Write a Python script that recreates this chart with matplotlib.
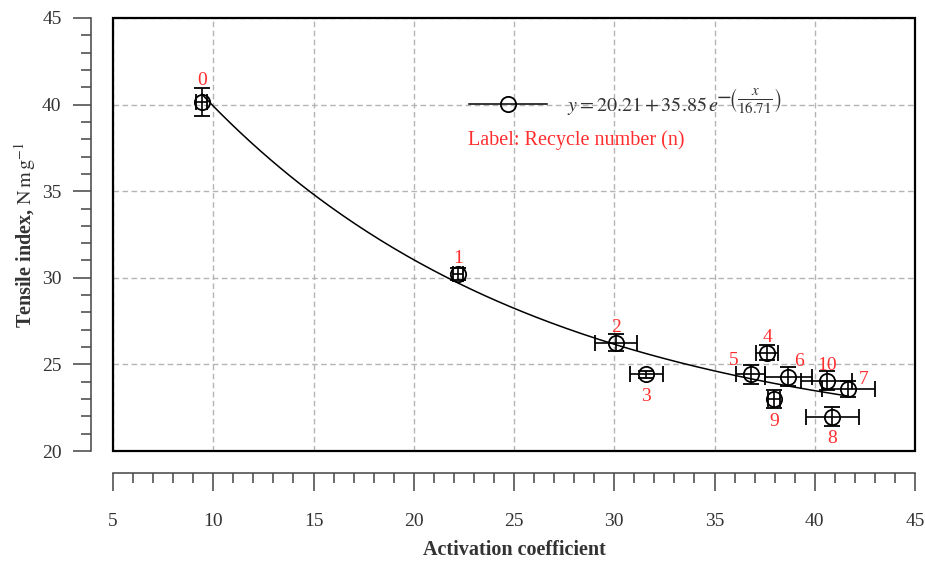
import matplotlib
matplotlib.use("Agg")
import matplotlib.pyplot as plt
from matplotlib.lines import Line2D
from matplotlib.patches import Rectangle
from matplotlib.ticker import MultipleLocator
import numpy as np

plt.rcParams["font.family"] = ["Liberation Serif", "DejaVu Serif"]
plt.rcParams["mathtext.fontset"] = "stix"

TXT, RED, GRID, AXC = "#333333", "#ff2e2e", "#b4b4b4", "#444444"

# recycle number n, activation coefficient (x), tensile index (y)
recycle = [0, 1, 2, 3, 4, 5, 6, 7, 8, 9, 10]
act_coef = [9.43, 22.23, 30.1, 31.6, 37.63, 36.8, 38.68, 41.68, 40.88, 37.97, 40.6]
act_err = [0.27, 0.25, 1.05, 0.83, 0.55, 0.73, 1.17, 1.33, 1.33, 0.30, 1.27]
tensile = [40.16, 30.23, 26.26, 24.42, 25.68, 24.42, 24.3, 23.58, 21.98, 23.0, 24.07]
tensile_err = [0.80, 0.35, 0.50, 0.20, 0.45, 0.56, 0.53, 0.48, 0.55, 0.52, 0.54]

# label offsets (points) for each recycle number
label_dx = [0, 0, 0, 0, 0, -12, 8, 11, 0, 0, 0]
label_dy = [15, 11, 11, -16, 11, 10, 11, 7, -16, -16, 11]

# fitted model y = a + b * exp(-x / c)
fit_a, fit_b, fit_c = 20.21, 35.85, 16.71

fig = plt.figure(figsize=(9.25, 5.61), dpi=100)
ax = fig.add_axes([113 / 925, 1 - 451 / 561, 802 / 925, 433 / 561])

# fit curve
xf = np.linspace(min(act_coef), max(act_coef), 200)
ax.plot(xf, fit_a + fit_b * np.exp(-xf / fit_c), color="black", lw=1.1, zorder=3)

ax.errorbar(act_coef, tensile, xerr=act_err, yerr=tensile_err, fmt="o",
            mfc="none", mec="black", ms=11, mew=1.3, ecolor="black",
            elinewidth=1.2, capsize=6, capthick=1.2, zorder=4)

for n, x, y, dx, dy in zip(recycle, act_coef, tensile, label_dx, label_dy):
    ax.annotate(str(n), (x, y), textcoords="offset points", xytext=(dx, dy),
                ha="center", va="center", color=RED, fontsize=14)

ax.set_xlim(5, 45)
ax.set_ylim(20, 45)
ax.xaxis.set_major_locator(MultipleLocator(5))
ax.xaxis.set_minor_locator(MultipleLocator(1))
ax.yaxis.set_major_locator(MultipleLocator(5))
ax.yaxis.set_minor_locator(MultipleLocator(1))
ax.grid(True, which="major", color=GRID, ls=(0, (4, 2.5)), lw=1)

# frame around the plot area, detached left/bottom axes
ax.add_patch(Rectangle((0, 0), 1, 1, transform=ax.transAxes, fill=False,
                       edgecolor="black", lw=1.6, zorder=6, clip_on=False))
ax.spines["top"].set_visible(False)
ax.spines["right"].set_visible(False)
for s in ("left", "bottom"):
    ax.spines[s].set_position(("outward", 16))
    ax.spines[s].set_color(AXC)
    ax.spines[s].set_linewidth(1.1)
ax.tick_params(which="major", length=13, width=1.1, color=AXC,
               labelsize=14, labelcolor=TXT)
ax.tick_params(which="minor", length=7.5, width=1.1, color=AXC)
ax.tick_params(axis="x", pad=16)
ax.tick_params(axis="y", pad=8)

ax.set_xlabel("Activation coefficient", fontsize=14.5, fontweight="bold",
              color=TXT, labelpad=7)
ax.set_ylabel(r"Tensile index, $\mathrm{N\,m\,g^{-1}}$", fontsize=14.5,
              fontweight="bold", color=TXT)
ax.yaxis.set_label_coords(-0.094, 0.5)

handle = Line2D([], [], color="black", lw=1.1, marker="o", mfc="none",
                mec="black", ms=11, mew=1.3)
leg = ax.legend([handle], [r"$y = 20.21 + 35.85\,e$"],
                loc="center left", bbox_to_anchor=(0.421, 0.796),
                frameon=False, fontsize=14.5, handlelength=3.9,
                handletextpad=1.0, labelcolor=TXT)
leg.set_zorder(5)

# exponent of the fit equation, kept at readable size next to the "e"
fig.canvas.draw()
bb = leg.get_texts()[0].get_window_extent(fig.canvas.get_renderer())
fig.text(bb.x1 - 3, bb.y1 - 5, r"$-\!\left(\frac{x}{16.71}\right)$",
         transform=None, fontsize=15.5, color=TXT, ha="left", va="center")

ax.text(0.443, 0.717, "Label: Recycle number (n)", transform=ax.transAxes,
        color=RED, fontsize=14.5, ha="left", va="center")

fig.savefig("out.png", dpi=100)
